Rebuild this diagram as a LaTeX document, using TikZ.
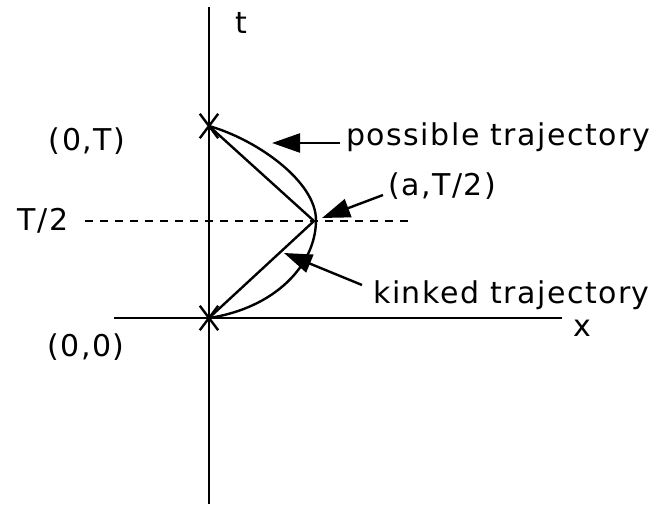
\documentclass[tikz,border=0pt]{standalone}
\usepackage{fontspec}
\setmainfont{DejaVu Sans}[LetterSpace=5]
\usetikzlibrary{arrows.meta, shapes.misc, positioning}

\begin{document}
\begin{tikzpicture}[
  x=1pt, y=-1pt,
  line width=2.4pt,
  lbl/.style={inner sep=0pt, font=\fontsize{30}{36}\selectfont},
  xmark/.style={cross out, draw, line width=2.4pt, minimum width=16pt,
                minimum height=22pt, inner sep=0pt},
  arr/.style={-{Triangle[length=28pt, width=19pt]}, line width=2.4pt}
]
  \useasboundingbox (0,0) rectangle (657,506);

  \coordinate (tTop) at (209,7);
  \coordinate (tBot) at (209,504);
  \coordinate (xL) at (114,318);
  \coordinate (xR) at (562,318);
  \coordinate (hL) at (85,221);
  \coordinate (hR) at (412,221);
  \coordinate (A) at (314,221);
  \coordinate (M) at (316,220);
  \coordinate (ptip) at (272,143);
  \coordinate (atip) at (322,218);
  \coordinate (ktip) at (284,253);

  \node[xmark] (O) at (209,318) {};
  \node[xmark] (P) at (209,126) {};

  \node[lbl, anchor=base] (tlab) at (241,33) {t};
  \node[lbl, anchor=base] (xlab) at (582,336) {x};
  \node[lbl, anchor=base] (PT) at (87,150) {(0,T)};
  \node[lbl, anchor=base] (P0) at (86,356) {(0,0)};
  \node[lbl, anchor=base] (half) at (43,230) {T/2};
  \node[lbl, anchor=base west] (poss) at (345,145) {possible trajectory};
  \node[lbl, anchor=base west] (alab) at (387,195) {(a,T/2)};
  \node[lbl, anchor=base west] (kink) at (372,303) {kinked trajectory};

  \draw (tTop) -- (tBot);
  \draw (xL) -- (xR);
  \draw[dash pattern=on 8pt off 7pt] (hL) -- (hR);

  \draw (P.center) -- (A) -- (O.center);
  \draw (P.center) .. controls (258,140) and (316,182) .. (M)
                   .. controls (316,265) and (275,308) .. (O.center);

  \draw[arr] ([shift={(-5pt,2pt)}]poss.base west) -- (ptip);
  \draw[arr] ([shift={(-4pt,0pt)}]alab.base west) -- (atip);
  \draw[arr] ([shift={(-10pt,18pt)}]kink.base west) -- (ktip);
\end{tikzpicture}
\end{document}
